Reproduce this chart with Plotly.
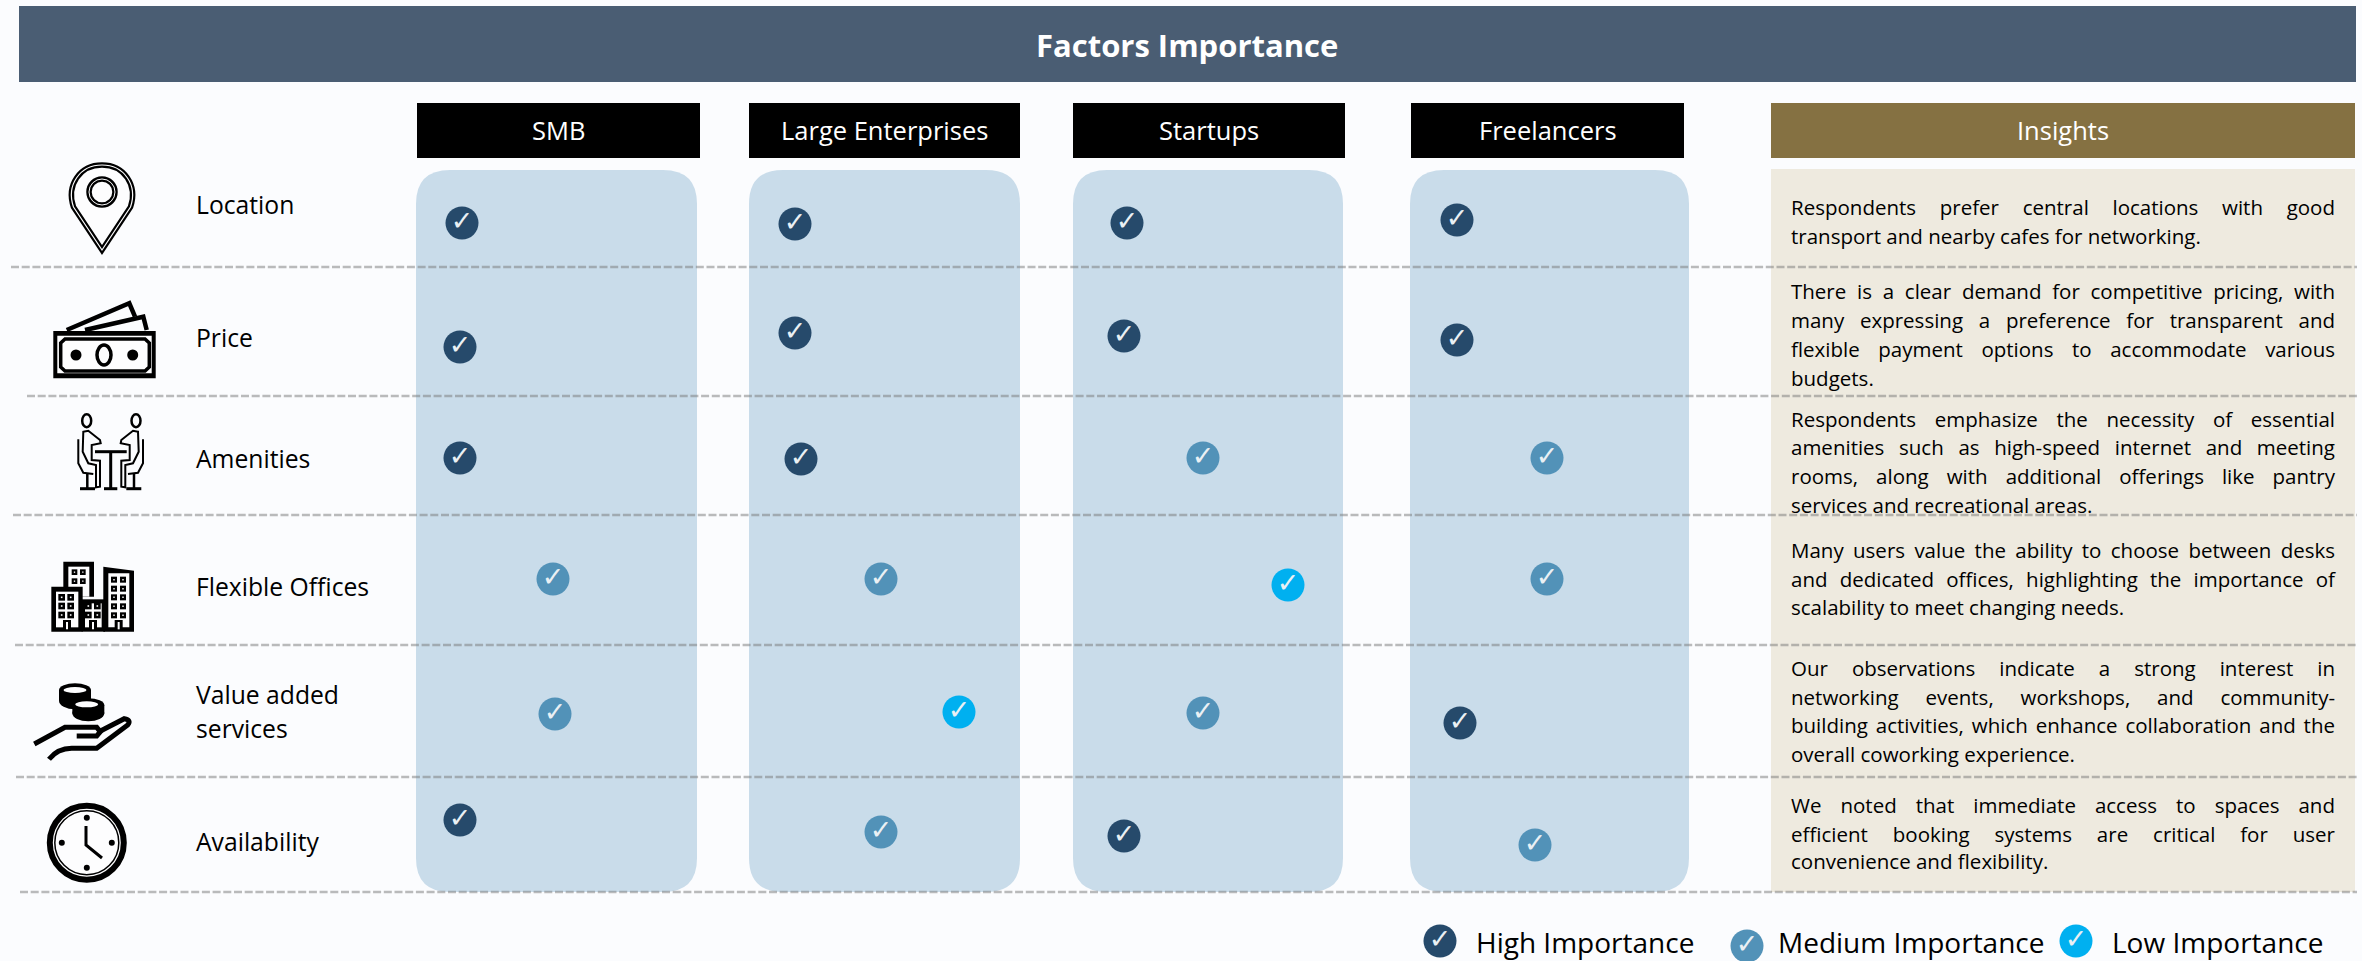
import json
import plotly.graph_objects as go

# ---------- data ----------
segments = ["SMB", "Large Enterprises", "Startups", "Freelancers"]
factors = ["Location", "Price", "Amenities", "Flexible Offices", "Value added<br>services", "Availability"]

# importance per factor (H / M / L) per segment
smb_level = ["H", "H", "H", "M", "M", "H"]
large_level = ["H", "H", "H", "M", "L", "M"]
startup_level = ["H", "H", "M", "L", "M", "H"]
freelancer_level = ["H", "H", "M", "M", "H", "M"]

# where each check sits on the page
smb_x = [462, 460, 460, 553, 555, 460]
smb_y = [223, 347, 458, 579, 714, 820]
large_x = [795, 795, 801, 881, 959, 881]
large_y = [224, 333, 459, 579, 712, 832]
startup_x = [1127, 1124, 1203, 1288, 1203, 1124]
startup_y = [223, 336, 458, 585, 713, 836]
freelancer_x = [1457, 1457, 1547, 1547, 1460, 1535]
freelancer_y = [220, 340, 458, 579, 723, 845]

legend_names = ["High Importance", "Medium Importance", "Low Importance"]
legend_levels = ["H", "M", "L"]
legend_x = [1440, 1747, 2076]
legend_y = [941, 946, 941]
legend_text_x = [1476, 1778, 2112]

insights = [
    ["Respondents prefer central locations with good",
     "transport and nearby cafes for networking."],
    ["There is a clear demand for competitive pricing, with",
     "many expressing a preference for transparent and",
     "flexible payment options to accommodate various",
     "budgets."],
    ["Respondents emphasize the necessity of essential",
     "amenities such as high-speed internet and meeting",
     "rooms, along with additional offerings like pantry",
     "services and recreational areas."],
    ["Many users value the ability to choose between desks",
     "and dedicated offices, highlighting the importance of",
     "scalability to meet changing needs."],
    ["Our observations indicate a strong interest in",
     "networking events, workshops, and community-",
     "building activities, which enhance collaboration and the",
     "overall coworking experience."],
    ["We noted that immediate access to spaces and",
     "efficient booking systems are critical for user",
     "convenience and flexibility."],
]
insight_line_y = [
    [207, 236], [291, 320, 349, 378], [419, 447, 476, 505],
    [550, 579, 607], [668, 697, 725, 754], [805, 834, 861],
]

# ---------- styling ----------
W, H = 2362, 961
FONT = "Open Sans"
LEVEL_COLOR = {"H": "#264a6b", "M": "#5292b8", "L": "#00b0f0"}
COL_BOX = [(416, 697), (749, 1020), (1073, 1343), (1410, 1689)]
HEAD_BOX = [(417, 700), (749, 1020), (1073, 1345), (1411, 1684)]
ROW_LABEL_Y = [204, 337, 458, 586, 711, 841]
DASH_Y = [267, 396, 515, 645, 777, 892]
DASH_X0 = [11, 27, 13, 15, 16, 20]

shapes, annotations = [], []


def rect(x0, y0, x1, y1, fill, layer="below"):
    shapes.append(dict(type="rect", x0=x0, y0=y0, x1=x1, y1=y1, fillcolor=fill,
                       line=dict(width=0), layer=layer))


def ell(cx, cy, rx, ry, fill="rgba(0,0,0,0)", stroke=None, sw=0):
    shapes.append(dict(type="circle", x0=cx - rx, x1=cx + rx, y0=cy - ry, y1=cy + ry,
                       fillcolor=fill, line=dict(width=sw, color=stroke or "rgba(0,0,0,0)"), layer="below"))


def path(d, fill="rgba(0,0,0,0)", stroke=None, sw=0):
    shapes.append(dict(type="path", path=d, fillcolor=fill,
                       line=dict(width=sw, color=stroke or "rgba(0,0,0,0)"), layer="below"))


def poly(pts, ox=0, oy=0, s=1.0, close=False, **kw):
    d = "M " + " L ".join(f"{ox + x / s:.1f},{oy + y / s:.1f}" for x, y in pts) + (" Z" if close else "")
    path(d, **kw)


def text(x, y, t, size, color="#000000", anchor="left", bold=False):
    annotations.append(dict(x=x, y=y, xref="x", yref="y", text=f"<b>{t}</b>" if bold else t,
                            showarrow=False, xanchor=anchor, yanchor="middle", align=anchor,
                            font=dict(family=FONT, size=size, color=color), borderpad=0, borderwidth=0))


def rounded(x0, y0, x1, y1, r, fill):
    path(f"M {x0 + r},{y0} L {x1 - r},{y0} Q {x1},{y0} {x1},{y0 + r} L {x1},{y1 - r} Q {x1},{y1} {x1 - r},{y1} "
         f"L {x0 + r},{y1} Q {x0},{y1} {x0},{y1 - r} L {x0},{y0 + r} Q {x0},{y0} {x0 + r},{y0} Z", fill=fill)


# title, headers, panels
rect(19, 6, 2356, 82, "#4a5d73")
text(1187, 45, "Factors Importance", 31, "#ffffff", "center", bold=True)
for (x0, x1), (hx0, hx1), name in zip(COL_BOX, HEAD_BOX, segments):
    rect(hx0, 103, hx1, 158, "#000000")
    text((hx0 + hx1) / 2, 130, name, 25.5, "#ffffff", "center")
    rounded(x0, 170, x1, 892, 34, "#c9dcea")
rect(1771, 103, 2355, 158, "#857142")
text(2063, 130, "Insights", 25.5, "#ffffff", "center")
rect(1771, 169, 2355, 892, "#eeeadf")

# row labels and dividers
for label, y in zip(factors, ROW_LABEL_Y):
    if "<br>" in label:
        a, b = label.split("<br>")
        text(196, 694, a, 24.7)
        text(196, 728, b, 24.7)
    else:
        text(196, y, label, 24.7)
for y, x0 in zip(DASH_Y, DASH_X0):
    shapes.append(dict(type="line", x0=x0, x1=2357, y0=y, y1=y, layer="above",
                       line=dict(color="rgba(120,120,120,0.5)", width=2.5, dash="8px,2.7px")))

# insights text
justified = []
for lines, ys in zip(insights, insight_line_y):
    for i, (ln, y) in enumerate(zip(lines, ys)):
        text(1791, y, ln, 20.5)
        if i < len(lines) - 1:
            justified.append(ln)

# legend labels
for name, x in zip(legend_names, legend_text_x):
    text(x, 941.5, name, 28)

# ---------- icons ----------
# pin
pin = "M 102,250 L 73.5,207 C 66,185 80,165 102,165 C 124,165 138,185 130.5,207 Z"
path(pin, stroke="#000000", sw=5.5, fill="#fdfdfe")
path(pin, stroke="#fdfdfe", sw=1.2)
ell(102, 192, 13, 13, stroke="#000000", sw=5.5, fill="#fdfdfe")
ell(102, 192, 13, 13, stroke="#fdfdfe", sw=1)

# money
poly([(66.7, 330), (129.3, 303.3), (135, 316.7)], stroke="#000000", sw=4.5)
poly([(85, 330), (143.3, 316.7), (146.7, 330)], stroke="#000000", sw=4.5)
rect(53.3, 331, 155.7, 378.3, "#000000")
rect(57.3, 335.7, 151.7, 373.3, "#fdfdfe")
poly([(75, 132), (315, 132), (328, 144), (328, 216), (315, 228), (75, 228), (62, 216), (62, 144)],
     40, 295, 3, close=True, stroke="#000000", sw=3.5)
ell(104, 355, 7, 10, stroke="#000000", sw=3.5)
ell(76, 355, 5.5, 5.5, fill="#000000")
ell(132.7, 355, 5.5, 5.5, fill="#000000")

# people at a table
for flip in (False, True):
    m = (lambda pts: [(304 - x, y) for x, y in pts]) if flip else (lambda pts: pts)
    poly(m([(70, 95), (85, 92), (120, 120), (122, 130), (95, 135), (95, 180), (120, 182), (120, 260), (108, 262),
            (108, 195), (85, 190), (68, 155), (70, 95)]), 60, 400, 3, close=True, stroke="#000000", sw=2)
    poly(m([(55, 118), (55, 190), (70, 218), (100, 222)]), 60, 400, 3, stroke="#000000", sw=2)
    poly(m([(82, 222), (82, 265)]), 60, 400, 3, stroke="#000000", sw=2.5)
    poly(m([(60, 266), (105, 266)]), 60, 400, 3, stroke="#000000", sw=3)
ell(86.7, 420.7, 4.5, 6.5, stroke="#000000", sw=2.5)
ell(136, 420.7, 4.5, 6.5, stroke="#000000", sw=2.5)
poly([(105, 155), (200, 155)], 60, 400, 3, stroke="#000000", sw=3)
poly([(152, 155), (152, 265)], 60, 400, 3, stroke="#000000", sw=3)
poly([(132, 266), (172, 266)], 60, 400, 3, stroke="#000000", sw=3)


# buildings
def bz(x, y):
    return 40 + x / 3, 550 + y / 3


def brect(x0, y0, x1, y1, fill):
    a, b = bz(x0, y0)
    c, d = bz(x1, y1)
    rect(a, b, c, d, fill)


def windows(xs, ys, size):
    for wy in ys:
        for wx in xs:
            brect(wx, wy, wx + size, wy + size, "#000000")
            brect(wx + size * 0.38, wy + size * 0.38, wx + size * 0.62, wy + size * 0.62, "#fdfdfe")


brect(70, 35, 162, 140, "#000000")
brect(85, 50, 148, 140, "#fdfdfe")
windows([95, 120], [58, 85], 17)
poly([(190, 50), (282, 62), (282, 245), (190, 245)], 40, 550, 3, close=True, fill="#000000")
brect(205, 70, 268, 232, "#fdfdfe")
windows([213, 240], [80, 107, 133, 160, 187], 18)
brect(125, 148, 195, 245, "#000000")
brect(135, 160, 185, 232, "#fdfdfe")
windows([135, 162], [158, 185], 20)
brect(34, 110, 128, 245, "#000000")
brect(48, 125, 115, 232, "#fdfdfe")
windows([55, 82], [132, 158, 185], 20)
for dx in (81, 159, 236):
    brect(dx - 12, 210, dx + 12, 234, "#000000")
    brect(dx - 3, 216, dx + 3, 238, "#fdfdfe")


# coins and hand
def cz(x, y):
    return 25 + x / 3, 670 + y / 3


def coin(cx, top, bot, rx, ry_top, ry_bot):
    x, y = cz(cx, top)
    _, y2 = cz(cx, bot)
    rect(x - rx / 3, y, x + rx / 3, y2, "#000000")
    ell(x, y, rx / 3, ry_top / 3, fill="#000000")
    ell(x, y2, rx / 3, ry_bot / 3, fill="#000000")


coin(150, 60, 92, 48, 20, 26)
coin(190, 105, 130, 48, 20, 24)
for cx, cy in ((150, 60), (185, 103)):
    x, y = cz(cx, cy)
    ell(x, y, 11.5, 3, fill="#fdfdfe")
poly([(28, 222), (120, 172), (215, 172), (226, 185), (215, 198), (155, 198)], 25, 670, 3, stroke="#000000", sw=5)
path(f"M {25 + 72 / 3:.1f},{670 + 268 / 3:.1f} C {25 + 90 / 3:.1f},{670 + 245 / 3:.1f} {25 + 115 / 3:.1f},{670 + 235 / 3:.1f} "
     f"{25 + 140 / 3:.1f},{670 + 235 / 3:.1f} L {25 + 215 / 3:.1f},{670 + 235 / 3:.1f} L {25 + 308 / 3:.1f},{670 + 165 / 3:.1f} "
     f"Q {25 + 320 / 3:.1f},{670 + 150 / 3:.1f} {25 + 298 / 3:.1f},{670 + 146 / 3:.1f} L {25 + 222 / 3:.1f},{670 + 185 / 3:.1f}",
     stroke="#000000", sw=5)

# clock
ell(86.8, 842.7, 37, 37, stroke="#000000", sw=6, fill="#fdfdfe")
ell(86.8, 842.7, 32, 32, stroke="#000000", sw=1.5)
for dx, dy in ((0, -25), (0, 25), (-25, 0), (25, 0)):
    ell(86.8 + dx, 842.7 + dy, 3, 3, fill="#000000")
poly([(86, 826), (86, 845), (102, 858)], stroke="#000000", sw=3)

# ---------- checks ----------
xs = smb_x + large_x + startup_x + freelancer_x + legend_x
ys = smb_y + large_y + startup_y + freelancer_y + legend_y
levels = smb_level + large_level + startup_level + freelancer_level + legend_levels

fig = go.Figure()
for level, name in zip(legend_levels, legend_names):
    idx = [i for i, lv in enumerate(levels) if lv == level]
    fig.add_trace(go.Scatter(
        x=[xs[i] for i in idx], y=[ys[i] for i in idx], mode="markers+text", name=name,
        marker=dict(size=33, color=LEVEL_COLOR[level], line=dict(width=0)),
        text=["\u2713"] * len(idx), textposition="middle center",
        textfont=dict(family="DejaVu Sans", size=27, color="#eaf0f4", weight="bold"),
        hoverinfo="skip", showlegend=False, cliponaxis=False))

fig.update_layout(
    width=W, height=H, margin=dict(l=0, r=0, t=0, b=0),
    paper_bgcolor="#fbfcfe", plot_bgcolor="#fbfcfe",
    xaxis=dict(range=[0, W], visible=False, fixedrange=True),
    yaxis=dict(range=[H, 0], visible=False, fixedrange=True),
    shapes=shapes, annotations=annotations, showlegend=False)

post = """
document.body.style.margin = '0';
document.body.style.overflow = 'hidden';
var just = %s;
document.querySelectorAll('.annotation-text').forEach(function (el) {
  var s = el.textContent;
  if (just.indexOf(s) < 0) return;
  var n = s.split(' ').length - 1;
  var spare = %d - el.getComputedTextLength();
  if (n > 0) el.style.wordSpacing = (spare / n) + 'px';
});
""" % (json.dumps(justified), 2335 - 1791)

fig.write_html("out.html", post_script=post, config={"displayModeBar": False})
